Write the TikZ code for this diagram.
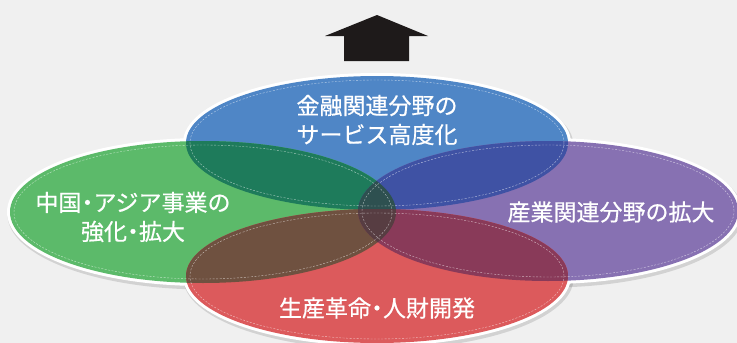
\documentclass[tikz,border=0pt]{standalone}
\usepackage{fontspec}
\newfontfamily\jpfont[FakeBold=0.6]{Noto Sans CJK JP}
\definecolor{bgc}{HTML}{F0F0F0}
\definecolor{arrowc}{HTML}{1E1A1A}
\definecolor{cB}{HTML}{4F86C6}
\definecolor{cG}{HTML}{5CBA6A}
\definecolor{cP}{HTML}{8771B2}
\definecolor{cR}{HTML}{DC5A5C}
\definecolor{cBG}{HTML}{1E7B5B}
\definecolor{cBP}{HTML}{3F52A4}
\definecolor{cRG}{HTML}{6F5140}
\definecolor{cRP}{HTML}{893A59}
\definecolor{cCT}{HTML}{2E5050}
\definecolor{cCB}{HTML}{573D42}
\newcommand\EllBlue{(377,143) ellipse [x radius=191pt, y radius=67pt]}
\newcommand\EllGreen{(203,212) ellipse [x radius=193pt, y radius=71pt]}
\newcommand\EllPurple{(548,211) ellipse [x radius=190pt, y radius=70pt]}
\newcommand\EllRed{(377,276) ellipse [x radius=191pt, y radius=67pt]}
\newcommand\ndot{\makebox[12pt][c]{・}}
\tikzset{
  lbl/.style={text=white, align=center, inner sep=0pt, font=\jpfont\fontsize{23}{29}\selectfont},
  rim/.style={draw=white, line width=6pt},
  shade/.style={fill=black, opacity=0.12},
  innerdash/.style={draw=white, opacity=0.6, line width=0.4pt, dash pattern=on 2pt off 1.5pt}
}
\begin{document}
\begin{tikzpicture}[x=1pt,y=-1pt]
\useasboundingbox (0,0) rectangle (737,343);
\fill[bgc] (0,0) rectangle (737,343);
% arrow
\coordinate (tip) at (377,15);
\fill[arrowc] (325,36) -- (tip) -- (428,36) -- (409,36) -- (409,61) -- (344,61) -- (344,36) -- cycle;
% shadows
\begin{scope}[shift={(1.5,2.5)}]
\fill[shade] (377,143) ellipse [x radius=195pt, y radius=71pt];
\fill[shade] (203,212) ellipse [x radius=197pt, y radius=75pt];
\fill[shade] (548,211) ellipse [x radius=194pt, y radius=74pt];
\fill[shade] (377,276) ellipse [x radius=195pt, y radius=71pt];
\end{scope}
% white rims
\draw[rim] \EllBlue;
\draw[rim] \EllGreen;
\draw[rim] \EllPurple;
\draw[rim] \EllRed;
% base fills
\fill[cB] \EllBlue;
\fill[cG] \EllGreen;
\fill[cP] \EllPurple;
\fill[cR] \EllRed;
% overlaps
\begin{scope}
\clip \EllBlue;
\fill[cBG] \EllGreen;
\fill[cBP] \EllPurple;
\end{scope}
\begin{scope}
\clip \EllRed;
\fill[cRG] \EllGreen;
\fill[cRP] \EllPurple;
\end{scope}
\begin{scope}
\clip \EllGreen;
\clip \EllPurple;
\fill[cCT] \EllBlue;
\fill[cCB] \EllRed;
\end{scope}
% inner dashed lines
\draw[innerdash] (377,143) ellipse [x radius=187pt, y radius=63pt];
\draw[innerdash] (203,212) ellipse [x radius=189pt, y radius=67pt];
\draw[innerdash] (548,211) ellipse [x radius=186pt, y radius=66pt];
\draw[innerdash] (377,276) ellipse [x radius=187pt, y radius=63pt];
% labels
\node[lbl] (tB) at (377,120) {金融関連分野の\\サービス高度化};
\node[lbl] (tG) at (133,217) {中国\ndot アジア事業の\\強化\ndot 拡大};
\node[lbl] (tP) at (611,212) {産業関連分野の拡大};
\node[lbl] (tR) at (377,308) {生産革命\ndot 人財開発};
\end{tikzpicture}
\end{document}
